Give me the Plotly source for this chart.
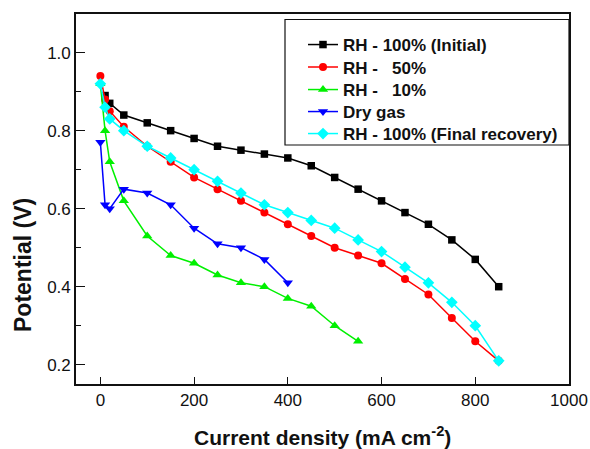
import plotly.graph_objects as go

# ---- data ----
x_initial = [10, 20, 50, 100, 150, 200, 250, 300, 350, 400, 450, 500, 550, 600, 650, 700, 750, 800, 850]
y_initial = [0.89, 0.87, 0.84, 0.82, 0.80, 0.78, 0.76, 0.75, 0.74, 0.73, 0.71, 0.68, 0.65, 0.62, 0.59, 0.56, 0.52, 0.47, 0.40]

x_rh50 = [0, 10, 20, 50, 100, 150, 200, 250, 300, 350, 400, 450, 500, 550, 600, 650, 700, 750, 800, 850]
y_rh50 = [0.94, 0.88, 0.85, 0.81, 0.76, 0.72, 0.68, 0.65, 0.62, 0.59, 0.56, 0.53, 0.50, 0.48, 0.46, 0.42, 0.38, 0.32, 0.26, 0.21]

x_rh10 = [0, 10, 20, 50, 100, 150, 200, 250, 300, 350, 400, 450, 500, 550]
y_rh10 = [0.92, 0.80, 0.72, 0.62, 0.53, 0.48, 0.46, 0.43, 0.41, 0.40, 0.37, 0.35, 0.30, 0.26]

x_dry = [0, 10, 20, 50, 100, 150, 200, 250, 300, 350, 400]
y_dry = [0.77, 0.61, 0.60, 0.65, 0.64, 0.61, 0.55, 0.51, 0.50, 0.47, 0.41]

x_final = [0, 10, 20, 50, 100, 150, 200, 250, 300, 350, 400, 450, 500, 550, 600, 650, 700, 750, 800, 850]
y_final = [0.92, 0.86, 0.83, 0.80, 0.76, 0.73, 0.70, 0.67, 0.64, 0.61, 0.59, 0.57, 0.55, 0.52, 0.49, 0.45, 0.41, 0.36, 0.30, 0.21]

NB = "\u00a0"
series = [
    ("RH - 100% (Initial)", x_initial, y_initial, "#000000", "square", 7.5),
    ("RH -" + NB * 3 + "50%", x_rh50, y_rh50, "#ff0000", "circle", 8),
    ("RH -" + NB * 3 + "10%", x_rh10, y_rh10, "#00f000", "triangle-up", 9),
    ("Dry gas", x_dry, y_dry, "#0000ff", "triangle-down", 9),
    ("RH - 100% (Final recovery)", x_final, y_final, "#00ffff", "diamond", 9),
]

FONT = "Arial, Liberation Sans, sans-serif"

W, H = 590, 449
L, R, T, B = 76, 21, 14, 65
pw, ph = W - L - R, H - T - B

def px_x(p):
    return (p - L) / pw

def px_y(p):
    return 1 - (p - T) / ph

legend_rows = [45, 67.5, 90, 112, 134]
legend_ids = ["legend", "legend2", "legend3", "legend4", "legend5"]

fig = go.Figure()
for (name, xs, ys, col, sym, sz), lid in zip(series, legend_ids):
    fig.add_trace(go.Scatter(
        x=xs, y=ys, name=name, mode="lines+markers", legend=lid,
        line=dict(color=col, width=1.5),
        marker=dict(symbol=sym, size=sz, color=col, line=dict(width=0)),
    ))

legend_layout = {}
for lid, row in zip(legend_ids, legend_rows):
    legend_layout[lid] = dict(
        x=px_x(303), y=px_y(row), xanchor="left", yanchor="middle",
        bgcolor="rgba(0,0,0,0)", borderwidth=0,
        font=dict(family=FONT, size=17, color="#111", weight="bold"),
        itemwidth=30,
    )

fig.update_layout(
    width=W, height=H,
    margin=dict(l=L, r=R, t=T, b=B, autoexpand=False),
    paper_bgcolor="white", plot_bgcolor="white",
    font=dict(family=FONT, color="#111", size=17),
    showlegend=True,
    xaxis=dict(
        range=[-52, 1000], tick0=0, dtick=200, automargin=False,
        showgrid=False, zeroline=False,
        showline=True, linecolor="#111", linewidth=1.6, mirror=True,
        ticks="inside", ticklen=7, tickwidth=1.4, tickcolor="#111",
        tickfont=dict(family=FONT, size=17, color="#111"),
    ),
    yaxis=dict(
        range=[0.1506, 1.099], tick0=0.2, dtick=0.2, tickformat=".1f", automargin=False,
        showgrid=False, zeroline=False,
        showline=True, linecolor="#111", linewidth=1.6, mirror=True,
        ticks="inside", ticklen=9, tickwidth=1.4, tickcolor="#111",
        tickfont=dict(family=FONT, size=17, color="#111"),
        minor=dict(dtick=0.1, tick0=0.1, ticks="inside", ticklen=5, tickwidth=1.2, tickcolor="#111"),
    ),
    shapes=[dict(
        type="rect", xref="paper", yref="paper",
        x0=px_x(285), x1=px_x(569), y0=px_y(145), y1=px_y(19.5),
        line=dict(color="#111", width=1.2), fillcolor="rgba(0,0,0,0)", layer="above",
    )],
    annotations=[
        dict(text="Current density (mA cm<sup>-2</sup>)", xref="paper", yref="paper",
             x=px_x(322), y=px_y(436), xanchor="center", yanchor="middle", showarrow=False,
             font=dict(family=FONT, size=21, color="#111", weight="bold")),
        dict(text="Potential (V)", xref="paper", yref="paper", textangle=-90,
             x=px_x(23), y=px_y(265), xanchor="center", yanchor="middle", showarrow=False,
             font=dict(family=FONT, size=23, color="#111", weight="bold")),
    ],
)
fig.update_layout(**legend_layout)

fig.write_html("out.html", config={"displayModeBar": False},
               post_script="document.body.style.margin='0';")
